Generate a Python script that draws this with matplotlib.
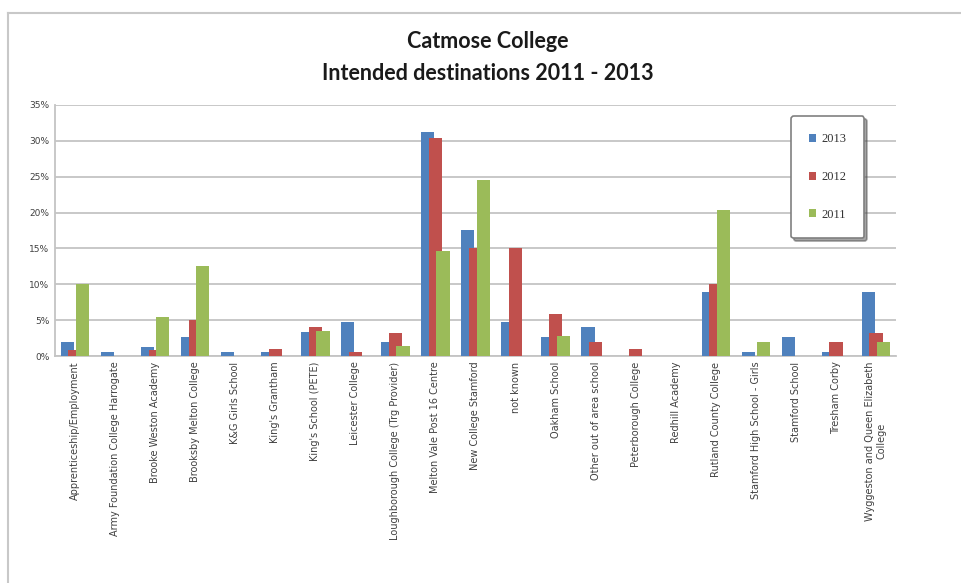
import numpy as np
import matplotlib.pyplot as plt
from matplotlib.lines import Line2D

# destinations (x axis)
destinations = [
    "Apprenticeship/Employment",
    "Army Foundation College Harrogate",
    "Brooke Weston Academy",
    "Brooksby Melton College",
    "K&G Girls School",
    "King's Grantham",
    "King's School (PETE)",
    "Leicester College",
    "Loughborough College (Trg Provider)",
    "Melton Vale Post 16 Centre",
    "New College Stamford",
    "not known",
    "Oakham School",
    "Other out of area school",
    "Peterborough College",
    "Redhill Academy",
    "Rutland County College",
    "Stamford High School - Girls",
    "Stamford School",
    "Tresham Corby",
    "Wyggeston and Queen Elizabeth\nCollege",
]

# percentages
pct_2013 = [2.0, 0.5, 1.3, 2.7, 0.5, 0.5, 3.3, 4.7, 2.0, 31.2, 17.6,
            4.7, 2.7, 4.0, 0.0, 0.0, 8.9, 0.5, 2.7, 0.5, 8.9]
pct_2012 = [0.8, 0.0, 0.9, 5.0, 0.0, 1.0, 4.0, 0.5, 3.2, 30.4, 15.0,
            15.0, 5.8, 1.9, 1.0, 0.0, 10.0, 0.0, 0.0, 1.9, 3.2]
pct_2011 = [10.0, 0.0, 5.5, 12.6, 0.0, 0.0, 3.5, 0.0, 1.4, 14.7, 24.6,
            0.0, 2.8, 0.0, 0.0, 0.0, 20.4, 2.0, 0.0, 0.0, 2.0]

years = ["2013", "2012", "2011"]
colors = ["#4F81BD", "#C0504D", "#9BBB59"]

W, H = 961, 583
fig = plt.figure(figsize=(9.61, 5.83), dpi=100)

# outer chart border (partly cropped in the original)
fig.add_artist(Line2D([8 / W, 8 / W], [0, 1 - 13 / H], color="#c8c8c8", lw=1.5))
fig.add_artist(Line2D([8 / W, 1], [1 - 13 / H, 1 - 13 / H], color="#c8c8c8", lw=1.5))

ax = fig.add_axes([55 / W, (H - 356) / H, 841 / W, 251 / H])

x = np.arange(len(destinations))
bw = 0.33
step = 0.19
for i, (vals, c, lab) in enumerate(zip([pct_2013, pct_2012, pct_2011], colors, years)):
    ax.bar(x + (i - 1) * step, vals, width=bw, color=c, label=lab, zorder=3 + i)

ax.set_xlim(-0.5, len(destinations) - 0.5)
ax.set_ylim(0, 35)
ax.set_yticks(range(0, 36, 5))
ax.set_yticklabels([f"{v}%" for v in range(0, 36, 5)], fontsize=6.5, color="#404040")
ax.set_xticks(x)
ax.set_xticklabels(destinations, rotation=90, fontsize=7, color="#404040",
                   va="top", ha="center", multialignment="center")
ax.tick_params(axis="both", length=0, pad=4)
ax.grid(axis="y", color="#c4c4c4", lw=1.3, zorder=0)
ax.set_axisbelow(True)
for s in ["top", "right"]:
    ax.spines[s].set_visible(False)
ax.spines["left"].set_color("#c4c4c4")
ax.spines["bottom"].set_color("#c4c4c4")
ax.spines["left"].set_linewidth(1.3)
ax.spines["bottom"].set_linewidth(1.3)

fig.text(488 / W, 1 - 42 / H, "Catmose College", ha="center", va="center",
         fontsize=15.5, fontweight="bold", family="Lato", color="#1a1a1a")
fig.text(488 / W, 1 - 73 / H, "Intended destinations 2011 - 2013", ha="center",
         va="center", fontsize=15.5, fontweight="bold", family="Lato", color="#1a1a1a")

leg = ax.legend(loc="upper left", bbox_to_anchor=(791 / W, 1 - 116 / H),
                bbox_transform=fig.transFigure, prop={"family": "Liberation Serif", "size": 9},
                labelspacing=2.05, borderpad=1.4, handlelength=0.6, handleheight=0.6,
                handletextpad=0.45, borderaxespad=0, fancybox=True, shadow=True,
                frameon=True, framealpha=1)
leg.get_frame().set_edgecolor("#808080")
leg.get_frame().set_linewidth(1.2)
for t in leg.get_texts():
    t.set_color("#333333")

plt.savefig("out.png", dpi=100)
